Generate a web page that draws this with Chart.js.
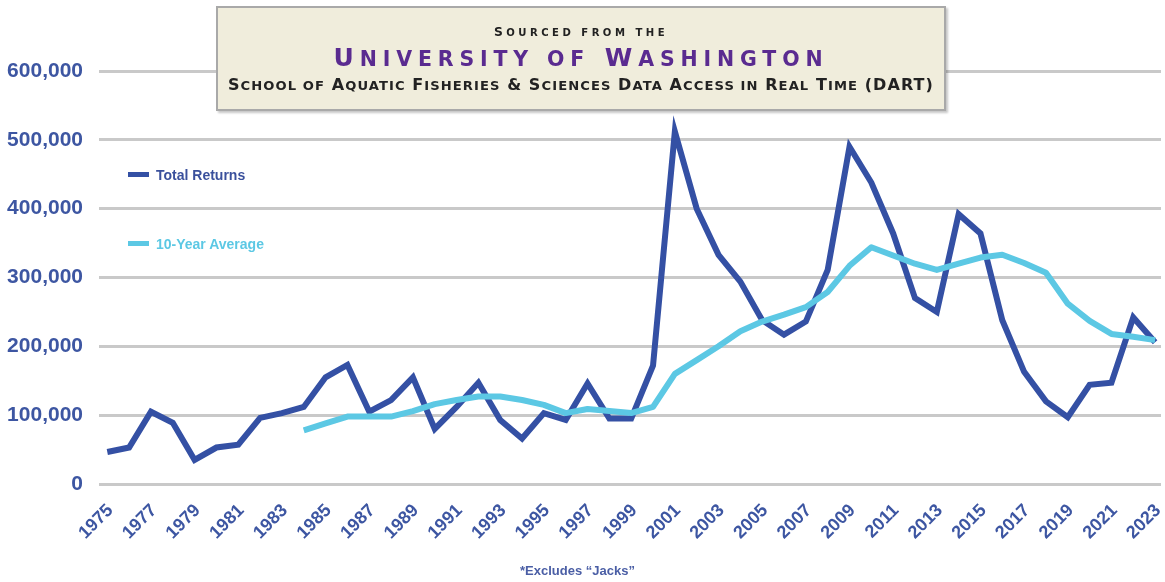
<!DOCTYPE html>
<html>
<head>
<meta charset="utf-8">
<script src="https://cdn.jsdelivr.net/npm/chart.js@4/dist/chart.umd.min.js"></script>
<style>
html,body{margin:0;padding:0;background:#ffffff;}
#wrap{position:relative;width:1165px;height:582px;overflow:hidden;background:#fff;}
#c{position:absolute;left:0;top:0;}
.tbox{position:absolute;left:216px;top:6px;width:726px;height:101px;background:#f0eddc;border:2px solid #a9a9a9;box-shadow:2px 2px 2px rgba(0,0,0,0.22);}
.tl{position:absolute;left:0;width:100%;text-align:center;white-space:nowrap;font-family:'DejaVu Sans',sans-serif;font-weight:700;line-height:1;}
.tl > span{display:inline-block;}
.sc{font-size:0.82em;text-transform:uppercase;}
.l1{font-size:12.3px;color:#222;}
.l2{font-size:25px;color:#5a2b90;}
.l3{font-size:16px;color:#222;}
.sw{position:absolute;width:21px;height:5px;}
.lt{position:absolute;font-family:'Liberation Sans',Arial,sans-serif;font-weight:700;font-size:14px;line-height:16px;white-space:nowrap;}
.foot{position:absolute;left:0;width:1155px;text-align:center;top:563px;font-family:'Liberation Sans',Arial,sans-serif;font-weight:700;font-size:13px;line-height:16px;color:#4a5ea5;}
</style>
</head>
<body>
<div id="wrap">
  <canvas id="c" width="1165" height="582"></canvas>
  <div class="tbox">
    <div class="tl l1" style="top:18px"><span data-w="174">Sourced from the</span></div>
    <div class="tl l2" style="top:37px"><span data-w="495">University of Washington</span></div>
    <div class="tl l3" style="top:69px"><span data-w="706">School of Aquatic Fisheries &amp; Sciences Data Access in Real Time (DART)</span></div>
  </div>
  <div class="sw" style="left:128px;top:172px;background:#3450a4;"></div>
  <div class="lt" style="left:156px;top:167px;color:#3a509c;">Total Returns</div>
  <div class="sw" style="left:128px;top:241px;background:#5cc8e4;"></div>
  <div class="lt" style="left:156px;top:236px;color:#5cc8e4;">10-Year Average</div>
  <div class="foot">*Excludes “Jacks”</div>
</div>
<script>
// ---- data ----
const years = [1975,1976,1977,1978,1979,1980,1981,1982,1983,1984,1985,1986,1987,1988,1989,1990,1991,1992,1993,1994,1995,1996,1997,1998,1999,2000,2001,2002,2003,2004,2005,2006,2007,2008,2009,2010,2011,2012,2013,2014,2015,2016,2017,2018,2019,2020,2021,2022,2023];
const totalReturns = [46500,53000,105000,89000,35000,53000,57000,96000,103000,112000,155000,173000,105000,122000,155000,80000,112000,147000,93000,66000,103000,93000,146000,95000,95000,172000,512000,400000,333000,294000,238000,217000,236000,311000,490000,438000,364000,270000,250000,392000,364000,238000,163000,120000,97000,144000,147000,242000,206000];
const tenYearAverage = [null,null,null,null,null,null,null,null,null,78000,88000,98000,98000,98000,106000,116000,122000,127000,127000,122000,115000,103000,109000,106000,103000,112000,160000,180000,200000,222000,236000,246000,257000,279000,317000,344000,332000,320000,311000,320000,329000,333000,321000,307000,262000,237000,218000,214000,209000];
const xTickYears = [1975,1977,1979,1981,1983,1985,1987,1989,1991,1993,1995,1997,1999,2001,2003,2005,2007,2009,2011,2013,2015,2017,2019,2021,2023];
const yTickValues = [0,100000,200000,300000,400000,500000,600000];

const toPoints = (vals) => years.map((yr, i) => ({x: yr, y: vals[i]})).filter(p => p.y !== null);

const labelColor = '#3d56a2';
new Chart(document.getElementById('c'), {
  type: 'line',
  data: {
    datasets: [
      {label: '10-Year Average', data: toPoints(tenYearAverage), borderColor: '#5cc8e4', backgroundColor: '#5cc8e4', borderWidth: 6, pointRadius: 0, tension: 0, borderJoinStyle: 'round', order: 0},
      {label: 'Total Returns', data: toPoints(totalReturns), borderColor: '#3450a4', backgroundColor: '#3450a4', borderWidth: 6, pointRadius: 0, tension: 0, borderJoinStyle: 'miter', order: 1}
    ]
  },
  options: {
    responsive: false,
    animation: false,
    devicePixelRatio: 1,
    layout: {padding: {top: 71, right: 4, bottom: 0, left: 0}},
    plugins: {legend: {display: false}, tooltip: {enabled: false}},
    scales: {
      x: {
        type: 'linear', min: 1974.62, max: 2023.27,
        grid: {display: false, drawTicks: false},
        border: {display: false},
        afterBuildTicks: (s) => { s.ticks = xTickYears.map(v => ({value: v})); },
        afterFit: (s) => { s.height = 98; s.paddingLeft = 0; s.paddingRight = 0; },
        ticks: {autoSkip: false, minRotation: 45, maxRotation: 45, padding: 16, labelOffset: 3, color: labelColor,
          font: {family: "'Liberation Sans', Arial, sans-serif", size: 18, weight: 'bold'},
          callback: (v) => String(v)}
      },
      y: {
        min: 0, max: 600000,
        grid: {color: '#c9c9c9', lineWidth: 3, drawTicks: false},
        border: {display: false},
        afterBuildTicks: (s) => { s.ticks = yTickValues.map(v => ({value: v})); },
        afterFit: (s) => { s.width = 99; },
        ticks: {padding: 16, color: labelColor,
          font: {family: "'Liberation Sans', Arial, sans-serif", size: 21, weight: 'bold'},
          callback: (v) => Number(v).toLocaleString('en-US')}
      }
    }
  }
});

// small-caps rendering: lowercase runs shown as smaller capitals, then fit to measured widths
document.querySelectorAll('.tl > span').forEach(sp => {
  const txt = sp.textContent;
  sp.textContent = '';
  let i = 0;
  while (i < txt.length) {
    const lower = /[a-z]/.test(txt[i]);
    let j = i;
    while (j < txt.length && (/[a-z]/.test(txt[j]) === lower || (lower && txt[j] === ' ' && j + 1 < txt.length && /[a-z]/.test(txt[j + 1])))) j++;
    const run = txt.slice(i, j);
    if (lower) { const s = document.createElement('span'); s.className = 'sc'; s.textContent = run; sp.appendChild(s); }
    else sp.appendChild(document.createTextNode(run));
    i = j;
  }
  const target = parseFloat(sp.dataset.w);
  const n = txt.length;
  const w = sp.getBoundingClientRect().width;
  sp.style.letterSpacing = ((target - w) / n) + 'px';
});
</script>
</body>
</html>
